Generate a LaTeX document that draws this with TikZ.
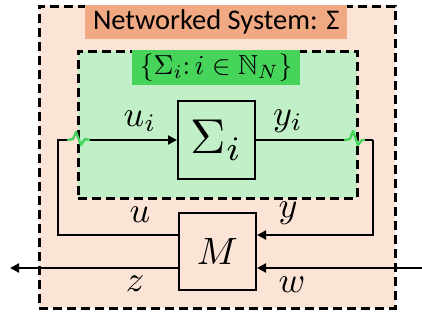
\documentclass[tikz,border=0pt]{standalone}
\usepackage{amssymb}
\usepackage{graphicx}
\usepackage{fontspec}
\setmainfont{Carlito}
\usetikzlibrary{arrows.meta}
\definecolor{peach}{HTML}{FBE3D6}
\definecolor{titleor}{HTML}{F1A983}
\definecolor{lgreen}{HTML}{C1F0C8}
\definecolor{dgreen}{HTML}{47D45A}
\newcommand{\mymath}[2]{\scalebox{#1}{$#2$}}
\tikzset{
  dashbox/.style={draw=black, line width=2.6pt, dash pattern=on 9pt off 5pt, inner sep=0pt, anchor=north west},
  blockbox/.style={draw=black, line width=2pt, inner sep=0pt},
  conn/.style={draw=black, line width=2pt},
  arr/.style={conn, -{Triangle[length=9pt,width=9pt]}},
  zig/.style={draw=dgreen, line width=2.4pt, line join=round, line cap=round},
  lbl/.style={inner sep=0pt}
}
\begin{document}
\begin{tikzpicture}[x=1pt,y=-1pt]
\useasboundingbox (0,0) rectangle (422,320);
% outer box
\node[dashbox, fill=peach, minimum width=356pt, minimum height=302pt] (outer) at (38,5) {};
\node[inner sep=0pt, fill=titleor, minimum width=262pt, minimum height=34pt, anchor=north west,
      font=\fontsize{28.5}{28.5}\selectfont] (title) at (85,5) {Networked System: Σ};
% inner box
\node[dashbox, fill=lgreen, minimum width=279pt, minimum height=147pt] (inner) at (77,50) {};
\node[inner sep=0pt, fill=dgreen, minimum width=168pt, minimum height=35pt, anchor=north west] (set) at (132,50) {\mymath{2.75}{\{\Sigma_i\colon i\in\mathbb{N}_N\}}};
% blocks
\node[blockbox, fill=lgreen, minimum width=77pt, minimum height=78pt] (S) at (216.5,140) {\mymath{4.9}{\Sigma_i}};
\node[blockbox, fill=peach, minimum width=77pt, minimum height=77pt] (M) at (217.5,251.5) {\mymath{3.8}{M}};
% connection coordinates
\coordinate (Mu) at ([yshift=16.5pt]M.west);
\coordinate (My) at ([yshift=16.5pt]M.east);
\coordinate (Mz) at ([yshift=-16.5pt]M.west);
\coordinate (Mw) at ([yshift=-16.5pt]M.east);
\coordinate (lc) at (58,140);
\coordinate (lz1) at (68,140);
\coordinate (lz2) at (90,140);
\coordinate (rz1) at (345,140);
\coordinate (rz2) at (365,140);
\coordinate (rc) at (373,140);
\coordinate (win) at (422,268);
\coordinate (zout) at (10,268);
% left loop
\draw[conn] (Mu) -| (lc) -- (lz1);
\draw[zig] (lz1) -- ++(5,-1) -- ++(3,-7) -- ++(5,13) -- ++(4,-6) -- (lz2);
\draw[arr] (lz2) -- (S.west);
% right loop
\draw[conn] (S.east) -- (rz1);
\draw[zig] (rz1) -- ++(5,-1) -- ++(3,-8) -- ++(5,14) -- ++(4,-5) -- (rz2);
\draw[conn] (rz2) -- (rc);
\draw[arr] (rc) |- (My);
% exogenous
\draw[arr] (win) -- (Mw);
\draw[arr] (Mz) -- (zout);
% labels
\node[lbl] (lui) at (140,121) {\mymath{3.6}{u_i}};
\node[lbl] (lyi) at (288,121) {\mymath{3.6}{y_i}};
\node[lbl] (lu) at (140,215) {\mymath{3.6}{u}};
\node[lbl] (ly) at (288,213) {\mymath{3.6}{y}};
\node[lbl] (lz) at (135,284) {\mymath{3.6}{z}};
\node[lbl] (lw) at (292,285) {\mymath{3.6}{w}};
\end{tikzpicture}
\end{document}
